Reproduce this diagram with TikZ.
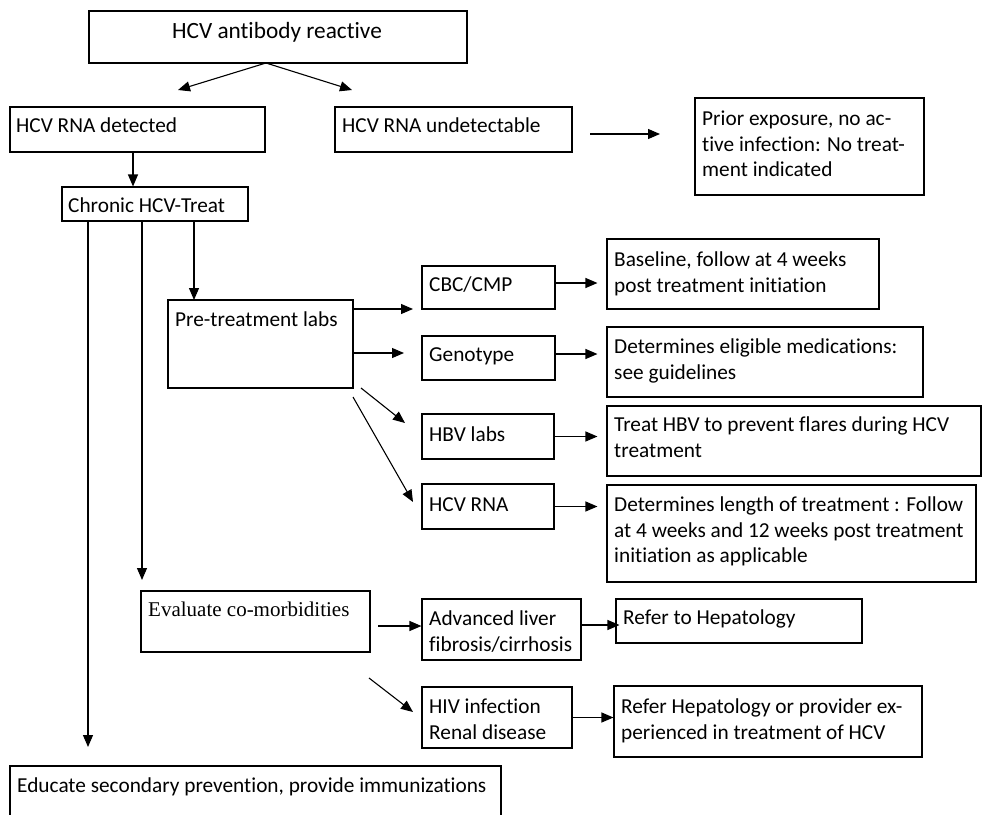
\documentclass[tikz,border=0pt]{standalone}
\usepackage{fontspec}
\setmainfont{Carlito}[Ligatures=NoCommon]
\newfontfamily\timesf{Liberation Serif}
\usetikzlibrary{arrows.meta,fit}
\newcommand{\ml}[1]{\begin{tabular}[t]{@{}l@{}}#1\end{tabular}}
\begin{document}
\begin{tikzpicture}[x=1pt,y=-1pt,
  box/.style={draw, line width=1.1pt, inner sep=0pt},
  txt/.style={anchor=base west, inner sep=0pt, font=\fontsize{21.3}{25.5}\selectfont},
  arr/.style={line width=1.1pt, -{Triangle[length=12pt,width=10pt]}}]
\useasboundingbox (0,0) rectangle (982,814);
\clip (0,0) rectangle (982,814);
% boxes
\node[box, fit={(89,11) (467,63)}] (top) {};
\node[box, fit={(10,107) (265,152)}] (det) {};
\node[box, fit={(335,107) (572,152)}] (und) {};
\node[box, fit={(695,98) (924,195)}] (prior) {};
\node[box, fit={(62,187) (248,221)}] (chr) {};
\node[box, fit={(168,300) (353,388)}] (pre) {};
\node[box, fit={(422,266) (555,309)}] (cbc) {};
\node[box, fit={(422,336) (555,380)}] (geno) {};
\node[box, fit={(607,239) (879,309)}] (base) {};
\node[box, fit={(607,327) (923,397)}] (elig) {};
\node[box, fit={(607,406) (981,476)}] (hbvt) {};
\node[box, fit={(422,414) (554,459)}] (hbv) {};
\node[box, fit={(422,484) (554,529)}] (hcvr) {};
\node[box, fit={(607,485) (976,582)}] (len) {};
\node[box, fit={(141,591) (370,652)}] (eva) {};
\node[box, fit={(422,599) (581,660)}] (adv) {};
\node[box, fit={(422,687) (572,748)}] (hiv) {};
\node[box, fit={(616,599) (862,643)}] (refa) {};
\node[box, fit={(614,686) (922,757)}] (refb) {};
\node[box, fit={(10,766) (501,830)}] (edu) {};
% texts
\node[txt, anchor=base, font=\fontsize{23.3}{28}\selectfont] (ttop) at (277,38.5) {HCV antibody reactive};
\node[txt] (tdet) at (16,132.5) {HCV RNA detected};
\node[txt] (tund) at (342,132.5) {HCV RNA undetectable};
\node[txt] (tprior) at (702,125.5) {\ml{Prior exposure, no ac-\\tive infection: No treat-\\ment indicated}};
\node[txt] (tchr) at (68,212.5) {Chronic HCV-Treat};
\node[txt] (tpre) at (175,326.5) {Pre-treatment labs};
\node[txt] (tcbc) at (429,291.5) {CBC/CMP};
\node[txt] (tgeno) at (429,361.5) {Genotype};
\node[txt] (tbase) at (614,266.5) {\ml{Baseline, follow at 4 weeks\\post treatment initiation}};
\node[txt] (telig) at (614,353.5) {\ml{Determines eligible medications:\\see guidelines}};
\node[txt] (thbvt) at (614,431.5) {\ml{Treat HBV to prevent flares during HCV\\treatment}};
\node[txt] (tlen) at (614,511.5) {\ml{Determines length of treatment : Follow\\at 4 weeks and 12 weeks post treatment\\initiation as applicable}};
\node[txt] (thbv) at (429,441.5) {HBV labs};
\node[txt] (thcvr) at (429,511.5) {HCV RNA};
\node[txt, font=\fontsize{21}{25.5}\timesf] (teva) at (148,616) {Evaluate co-morbidities};
\node[txt] (tadv) at (429,625.5) {\ml{Advanced liver\\fibrosis/cirrhosis}};
\node[txt] (thiv) at (429,713.5) {\ml{HIV infection\\Renal disease}};
\node[txt] (trefa) at (623,624.5) {Refer to Hepatology};
\node[txt] (trefb) at (621,713.5) {\ml{Refer Hepatology or provider ex-\\perienced in treatment of HCV}};
\node[txt] (tedu) at (17,792.5) {Educate secondary prevention, provide immunizations};
% free ends
\coordinate (s0) at (266,63);
\coordinate (e1) at (178,90);
\coordinate (e2) at (352,90);
\coordinate (u1) at (590,134);
\coordinate (u2) at (660,134);
\coordinate (d1) at (133,152);
\coordinate (c1) at (88,747);
\coordinate (c2) at (142,580);
\coordinate (c3) at (194,300);
\coordinate (p1) at (413,309);
\coordinate (p2) at (404,353);
\coordinate (q1) at (361,388);
\coordinate (q2) at (405,423);
\coordinate (q3) at (353,397);
\coordinate (q4) at (413,502);
\coordinate (r1) at (378,626);
\coordinate (r2) at (369,678);
\coordinate (r3) at (413,712);
% connectors
\draw[arr] (s0) -- (e1);
\draw[arr] (s0) -- (e2);
\draw[arr] (u1) -- (u2);
\draw[arr] (d1) -- (d1 |- chr.north);
\draw[arr] (c1 |- chr.south) -- (c1);
\draw[arr] (c2 |- chr.south) -- (c2);
\draw[arr] (c3 |- chr.south) -- (c3);
\draw[arr] (p1 -| pre.east) -- (p1);
\draw[arr] (p2 -| pre.east) -- (p2);
\draw[arr] (q1) -- (q2);
\draw[arr] (q3) -- (q4);
\draw[arr, shorten >=9pt] ([yshift=4.5pt]cbc.east) -- ([yshift=4.5pt]cbc.east -| base.west);
\draw[arr, shorten >=9pt] ([yshift=4pt]geno.east) -- ([yshift=4pt]geno.east -| elig.west);
\draw[arr, shorten >=9pt] (hbv.east) -- (hbv.east -| hbvt.west);
\draw[arr, shorten >=9pt] (hcvr.east) -- (hcvr.east -| len.west);
\draw[arr] (r1) -- (r1 -| adv.west);
\draw[arr] (r2) -- (r3);
\draw[arr, shorten >=-4pt] ([yshift=4.5pt]adv.east) -- ([yshift=4.5pt]adv.east -| refa.west);
\draw[arr] (hiv.east) -- (hiv.east -| refb.west);
\end{tikzpicture}
\end{document}
